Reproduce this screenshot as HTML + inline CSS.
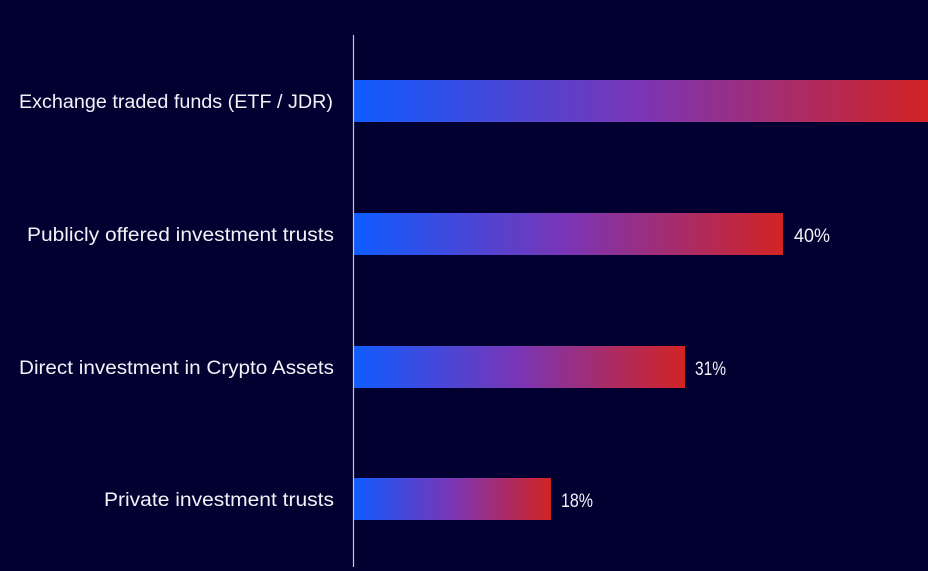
<!DOCTYPE html>
<html><head><style>
html,body{margin:0;padding:0;background:#020030;}
svg{display:block}
text{font-family:"Liberation Sans Narrow","Liberation Sans",sans-serif;fill:#f2f2f8;font-size:19px;}
</style></head><body>
<svg width="928" height="571" xmlns="http://www.w3.org/2000/svg">
<defs>
<linearGradient id="g" x1="0" x2="1" y1="0" y2="0">
<stop offset="0" stop-color="#0f5cff"/>
<stop offset="0.5" stop-color="#7b35b5"/>
<stop offset="1" stop-color="#d22424"/>
</linearGradient>
</defs>
<rect width="928" height="571" fill="#020030"/>
<rect x="354" y="80" width="574" height="42" fill="url(#g)"/>
<rect x="354" y="213" width="429" height="42" fill="url(#g)"/>
<rect x="354" y="346" width="331" height="42" fill="url(#g)"/>
<rect x="354" y="478" width="197" height="42" fill="url(#g)"/>
<line x1="353.5" y1="35" x2="353.5" y2="567" stroke="#c8c8d0" stroke-width="1.2"/>
<text x="19" y="108" textLength="314" lengthAdjust="spacingAndGlyphs">Exchange traded funds (ETF / JDR)</text>
<text x="27" y="241" textLength="307" lengthAdjust="spacingAndGlyphs">Publicly offered investment trusts</text>
<text x="19" y="374" textLength="315" lengthAdjust="spacingAndGlyphs">Direct investment in Crypto Assets</text>
<text x="104" y="506" textLength="230" lengthAdjust="spacingAndGlyphs">Private investment trusts</text>
<text x="794" y="242" textLength="36" lengthAdjust="spacingAndGlyphs">40%</text>
<text x="695" y="375" textLength="31" lengthAdjust="spacingAndGlyphs">31%</text>
<text x="561" y="507" textLength="32" lengthAdjust="spacingAndGlyphs">18%</text>
</svg>
</body></html>
